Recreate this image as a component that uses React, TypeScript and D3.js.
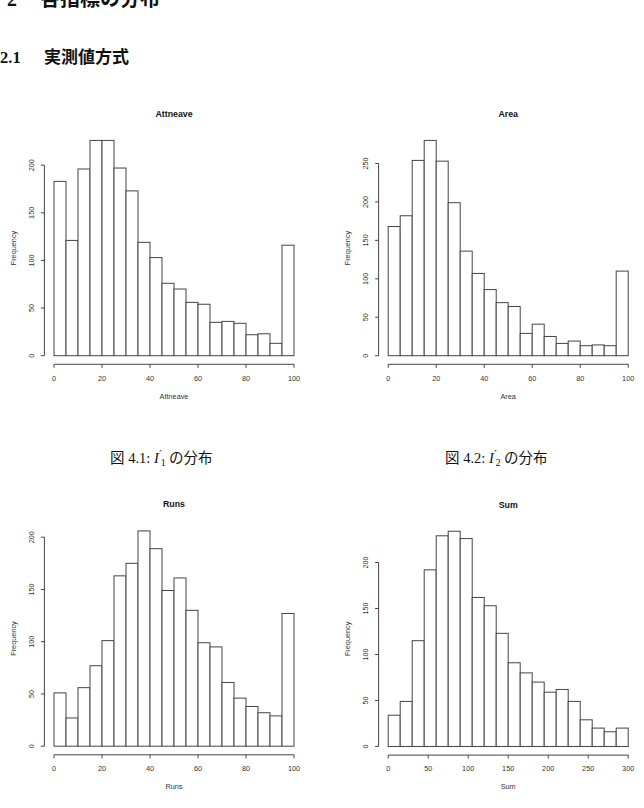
import * as d3 from "d3";

// bin counts (20 bins each)
const attneaveCounts = [183, 121, 196, 226, 226, 197, 173, 119, 103, 76, 70, 56, 54, 35, 36, 34, 22, 23, 13, 116];
const areaCounts = [168, 182, 254, 280, 253, 199, 136, 107, 86, 69, 64, 29, 41, 25, 16, 19, 13, 14, 13, 110];
const runsCounts = [51, 27, 56, 77, 101, 163, 175, 206, 189, 149, 161, 130, 99, 95, 61, 46, 38, 32, 29, 127];
const sumCounts = [34, 49, 115, 192, 229, 234, 226, 162, 153, 123, 91, 80, 70, 59, 62, 49, 29, 20, 16, 20];

// bin edges
const pctBreaks = [0, 5, 10, 15, 20, 25, 30, 35, 40, 45, 50, 55, 60, 65, 70, 75, 80, 85, 90, 95, 100];
const sumBreaks = [0, 15, 30, 45, 60, 75, 90, 105, 120, 135, 150, 165, 180, 195, 210, 225, 240, 255, 270, 285, 300];

// axis ticks
const pctTicks = [0, 20, 40, 60, 80, 100];
const sumTicks = [0, 50, 100, 150, 200, 250, 300];
const freqTicks200 = [0, 50, 100, 150, 200];
const freqTicks250 = [0, 50, 100, 150, 200, 250];

const W = 644;
const H = 808;
const PLOT_W = 259.2;
const PLOT_H = 232.5;
const LINE = "#444";
const FONT = "'Liberation Sans', Arial, Helvetica, sans-serif";
const JP_FONT = "'Noto Sans CJK JP', sans-serif";
const SERIF = "'Liberation Serif', 'DejaVu Serif', serif";

type HistProps = {
  title: string;
  xLabel: string;
  counts: number[];
  breaks: number[];
  xTicks: number[];
  yTicks: number[];
  left: number;
  top: number;
};

function Histogram({ title, xLabel, counts, breaks, xTicks, yTicks, left, top }: HistProps) {
  // R-style 4% range expansion on both axes
  const xMin = breaks[0];
  const xMax = breaks[breaks.length - 1];
  const xPad = (xMax - xMin) * 0.04;
  const x = d3.scaleLinear().domain([xMin - xPad, xMax + xPad]).range([left, left + PLOT_W]);
  const yMax = d3.max(counts) as number;
  const y = d3.scaleLinear().domain([-0.04 * yMax, yMax * 1.04]).range([top + PLOT_H, top]);

  const bottom = top + PLOT_H;
  const cx = left + PLOT_W / 2;
  const cy = top + PLOT_H / 2;

  return (
    <g>
      <text x={cx} y={top - 15} textAnchor="middle" fontFamily={FONT} fontWeight="bold" fontSize={8.8} fill="#111">
        {title}
      </text>

      {counts.map((c, i) => (
        <rect
          key={i}
          x={x(breaks[i])}
          y={y(c)}
          width={x(breaks[i + 1]) - x(breaks[i])}
          height={y(0) - y(c)}
          fill="white"
          stroke={LINE}
          strokeWidth={1}
        />
      ))}

      {/* x axis */}
      <line x1={x(xTicks[0])} x2={x(xTicks[xTicks.length - 1])} y1={bottom} y2={bottom} stroke={LINE} />
      {xTicks.map((t) => (
        <g key={t}>
          <line x1={x(t)} x2={x(t)} y1={bottom} y2={bottom + 3.5} stroke={LINE} />
          <text x={x(t)} y={bottom + 16.2} textAnchor="middle" fontFamily={FONT} fontSize={7.3} fill="#333">
            {t}
          </text>
        </g>
      ))}
      <text x={cx} y={bottom + 34.3} textAnchor="middle" fontFamily={FONT} fontSize={7.3} fill="#333">
        {xLabel}
      </text>

      {/* y axis */}
      <line x1={left} x2={left} y1={y(yTicks[0])} y2={y(yTicks[yTicks.length - 1])} stroke={LINE} />
      {yTicks.map((t) => (
        <g key={t}>
          <line x1={left - 3.5} x2={left} y1={y(t)} y2={y(t)} stroke={LINE} />
          <text
            transform={`translate(${left - 10.4},${y(t)}) rotate(-90)`}
            textAnchor="middle"
            fontFamily={FONT}
            fontSize={7.3}
            fill="#333"
          >
            {t}
          </text>
        </g>
      ))}
      <text
        transform={`translate(${left - 28.6},${cy}) rotate(-90)`}
        textAnchor="middle"
        fontFamily={FONT}
        fontSize={7.3}
        fill="#333"
      >
        Frequency
      </text>
    </g>
  );
}

function Caption({ x, y, num, sub }: { x: number; y: number; num: string; sub: string }) {
  return (
    <text x={x} y={y} fontSize={14.5} fill="#111" fontFamily={SERIF}>
      <tspan fontFamily={JP_FONT}>図</tspan>
      <tspan> {num}: </tspan>
      <tspan fontStyle="italic">I</tspan>
      <tspan fontSize={11} fontFamily="'DejaVu Serif', serif" dx={0.5} dy={-5}>′</tspan>
      <tspan fontSize={10} dx={-1} dy={8}>{sub}</tspan>
      <tspan dy={-3} fontFamily={JP_FONT}> の分布</tspan>
    </text>
  );
}

export default function App() {
  return (
    <svg
      width={W}
      height={H}
      viewBox={`0 0 ${W} ${H}`}
      style={{ position: "absolute", left: 0, top: 0, background: "white" }}
    >
      <rect x={0} y={0} width={W} height={H} fill="white" />

      {/* section headings */}
      <text x={7} y={6} fontSize={20} fontWeight="bold" fill="#111">
        <tspan fontFamily={SERIF}>2</tspan>
        <tspan x={40} fontFamily={JP_FONT}>各指標の分布</tspan>
      </text>
      <text x={0} y={63} fontWeight="bold" fill="#111">
        <tspan fontFamily={SERIF} fontSize={16.5}>2.1</tspan>
        <tspan x={44} fontFamily={JP_FONT} fontSize={17}>実測値方式</tspan>
      </text>

      <Histogram
        title="Attneave"
        xLabel="Attneave"
        counts={attneaveCounts}
        breaks={pctBreaks}
        xTicks={pctTicks}
        yTicks={freqTicks200}
        left={44.4}
        top={131.8}
      />
      <Histogram
        title="Area"
        xLabel="Area"
        counts={areaCounts}
        breaks={pctBreaks}
        xTicks={pctTicks}
        yTicks={freqTicks250}
        left={378.6}
        top={131.8}
      />
      <Histogram
        title="Runs"
        xLabel="Runs"
        counts={runsCounts}
        breaks={pctBreaks}
        xTicks={pctTicks}
        yTicks={freqTicks200}
        left={44.4}
        top={522.3}
      />
      <Histogram
        title="Sum"
        xLabel="Sum"
        counts={sumCounts}
        breaks={sumBreaks}
        xTicks={sumTicks}
        yTicks={freqTicks200}
        left={378.6}
        top={522.6}
      />

      <Caption x={110} y={463} num="4.1" sub="1" />
      <Caption x={445} y={463} num="4.2" sub="2" />
    </svg>
  );
}
